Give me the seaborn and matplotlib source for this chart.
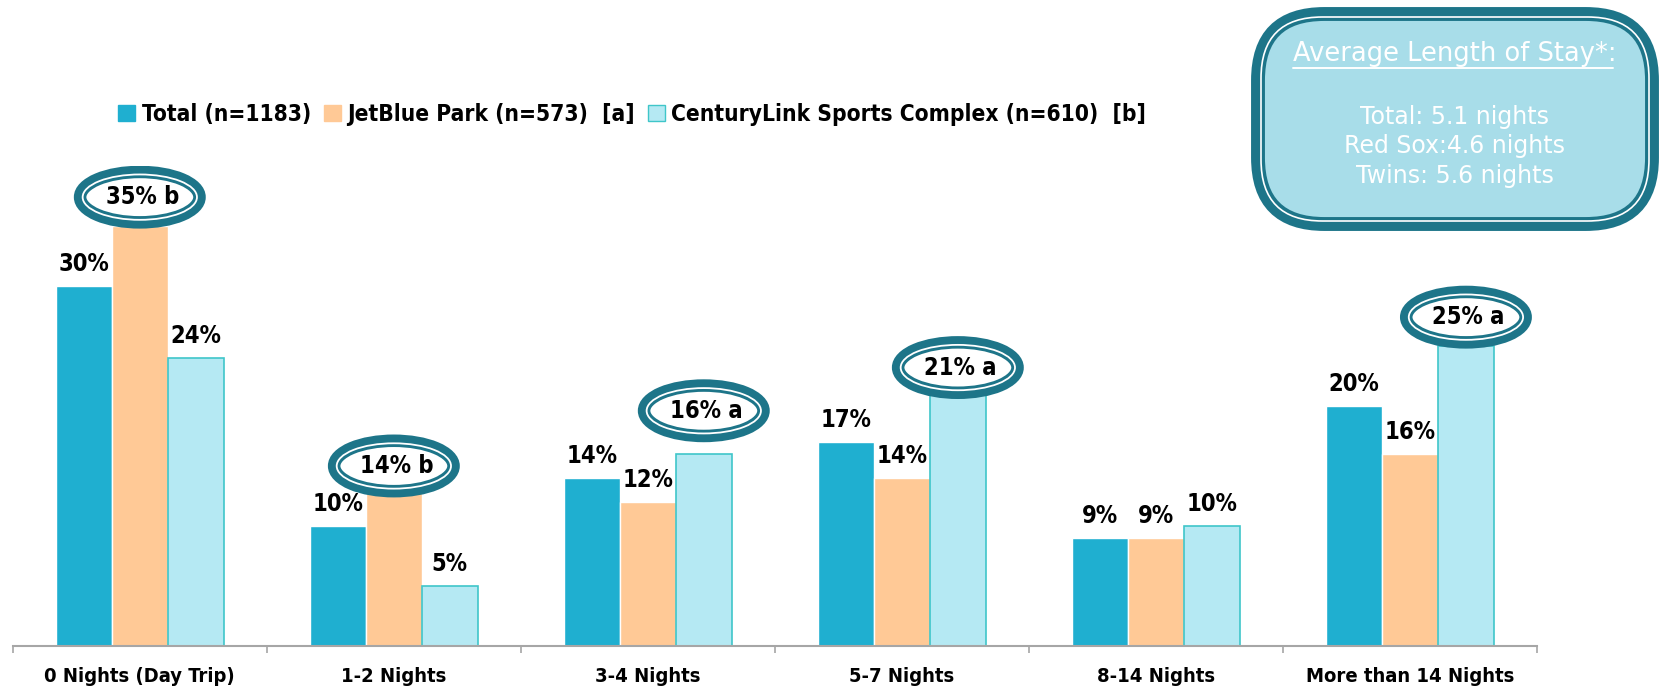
import numpy as np
import pandas as pd
import matplotlib
matplotlib.use("Agg")
import matplotlib.pyplot as plt
import seaborn as sns
from matplotlib.patches import Ellipse, FancyBboxPatch, Patch
from matplotlib.lines import Line2D
from matplotlib import font_manager as fm

# ============================================================
# 数据
# ============================================================
categories = ["0 Nights (Day Trip)", "1-2 Nights", "3-4 Nights",
              "5-7 Nights", "8-14 Nights", "More than 14 Nights"]
series = ["Total (n=1183)", "JetBlue Park (n=573)  [a]",
          "CenturyLink Sports Complex (n=610)  [b]"]
total_vals = [30, 10, 14, 17, 9, 20]
jetblue_vals = [35, 14, 12, 14, 9, 16]
century_vals = [24, 5, 16, 21, 10, 25]
# 显著性标记 (圈出)
total_sig = ["", "", "", "", "", ""]
jetblue_sig = ["b", "b", "", "", "", ""]
century_sig = ["", "", "a", "a", "", "a"]

box_title = "Average Length of Stay*:"
box_lines = ["Total: 5.1 nights", "Red Sox:4.6 nights", "Twins: 5.6 nights"]

# 圈的位置微调 (单位: %)
ring_lift = {(0, 1): 2.4, (1, 1): 1.0, (2, 2): 3.6, (3, 2): 2.2, (5, 2): 2.4}

colors = ["#1fafd0", "#ffc996", "#b5e9f3"]
ring_color = "#1d7589"

df = pd.DataFrame({
    "cat": categories * 3,
    "series": [s for s in series for _ in categories],
    "val": total_vals + jetblue_vals + century_vals,
})
sigs = [total_sig, jetblue_sig, century_sig]
vals = [total_vals, jetblue_vals, century_vals]

sns.set_style("white")
plt.rcParams["font.family"] = ["DejaVu Sans"]
plt.rcParams["text.color"] = "black"


def cond(size):
    return fm.FontProperties(family="DejaVu Sans", weight="bold",
                             stretch="condensed", size=size)


fig = plt.figure(figsize=(16.59, 6.9), dpi=100)
ax = fig.add_axes([0.0077, 0.0638, 0.9188, 0.6957])

sns.barplot(data=df, x="cat", y="val", hue="series", order=categories,
            hue_order=series, palette=colors, width=0.66, gap=0,
            saturation=1, legend=False, ax=ax)

# CenturyLink 边框
for p in ax.containers[2]:
    p.set_edgecolor("#3fc6c9")
    p.set_linewidth(1.2)

ew, eh = 0.47, 4.2
for hi, cont in enumerate(ax.containers):
    for ci, p in enumerate(cont):
        xc = p.get_x() + p.get_width() / 2
        v = vals[hi][ci]
        if sigs[hi][ci]:
            yc = v + ring_lift.get((ci, hi), 2.4)
            ax.add_patch(Ellipse((xc, yc), ew, eh, facecolor="white",
                                 edgecolor=ring_color, linewidth=9, zorder=5))
            ax.add_patch(Ellipse((xc, yc), ew - 0.02, eh - 0.42, facecolor="none",
                                 edgecolor="white", linewidth=1.3, zorder=6))
            ax.text(xc + 0.01, yc, f"{v}% {sigs[hi][ci]}", ha="center", va="center",
                    fontproperties=cond(17), color="black", zorder=7)
        else:
            ax.annotate(f"{v}%", (xc, v), xytext=(0, 7), textcoords="offset points",
                        ha="center", va="bottom", fontproperties=cond(17),
                        color="black")

ax.set_ylim(0, 40)
ax.set_xlim(-0.5, 5.5)
ax.set_yticks([])
ax.set_xlabel("")
ax.set_ylabel("")
for s in ["top", "right", "left"]:
    ax.spines[s].set_visible(False)
ax.spines["bottom"].set_color("#a6a6a6")
ax.spines["bottom"].set_linewidth(1.5)
ax.set_xticks(range(len(categories)))
ax.set_xticklabels(categories)
for t in ax.get_xticklabels():
    t.set_fontproperties(cond(14.5))
    t.set_color("black")
ax.tick_params(axis="x", which="major", length=0, pad=15)
ax.set_xticks(np.arange(-0.5, len(categories)), minor=True)
ax.tick_params(axis="x", which="minor", bottom=True, length=5, width=1.2,
               color="#a6a6a6")

# 图例
handles = [Patch(facecolor=colors[0], edgecolor=colors[0]),
           Patch(facecolor=colors[1], edgecolor=colors[1]),
           Patch(facecolor=colors[2], edgecolor="#3fc6c9")]
leg = fig.legend(handles, series, loc="center left", bbox_to_anchor=(0.059, 0.834),
                 ncol=3, frameon=False, handlelength=0.75, handleheight=0.75,
                 handletextpad=0.3, columnspacing=0.55, prop=cond(16.3))
for t in leg.get_texts():
    t.set_color("black")

# 右上角信息框
bx0, by0, bw, bh = 1258 / 1659, 1 - 224 / 690, 394 / 1659, 210 / 690
box = FancyBboxPatch((bx0, by0), bw, bh, boxstyle="round,pad=0,rounding_size=0.04",
                     transform=fig.transFigure, facecolor="#a8dde9",
                     edgecolor=ring_color, linewidth=10, mutation_aspect=1659 / 690)
fig.patches.append(box)
off = 3 / 1659
box2 = FancyBboxPatch((bx0 + off, by0 + 3 / 690), bw - 2 * off, bh - 6 / 690,
                      boxstyle="round,pad=0,rounding_size=0.037",
                      transform=fig.transFigure, facecolor="none",
                      edgecolor="white", linewidth=1.2, mutation_aspect=1659 / 690)
fig.patches.append(box2)

cx = (1254 + 1656) / 2 / 1659
fig.text(cx, 1 - 54 / 690, box_title, ha="center", va="center", color="white",
         fontsize=18.5, family="DejaVu Sans")
fig.add_artist(Line2D([1293 / 1659, 1613 / 1659], [1 - 68 / 690, 1 - 68 / 690],
                      color="white", linewidth=1.4, transform=fig.transFigure))
for i, t in enumerate(box_lines):
    fig.text(cx, 1 - (117 + 29.5 * i) / 690, t, ha="center", va="center",
             color="white", fontsize=17, family="DejaVu Sans")

plt.savefig("out.png", dpi=100)
